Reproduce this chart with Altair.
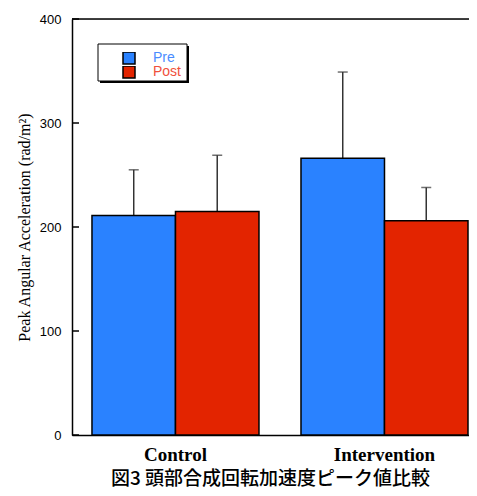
import altair as alt
import pandas as pd

groups = ["Control", "Control", "Intervention", "Intervention"]
phases = ["Pre", "Post", "Pre", "Post"]
means = [211, 215, 266, 206]
errs = [44, 54, 83, 32]
y_ticks = [0, 100, 200, 300, 400]
phase_order = ["Pre", "Post"]
group_order = ["Control", "Intervention"]
bar_colors = ["#2A82FF", "#E32400"]
label_colors = ["#4A8CFF", "#F0503C"]

df = pd.DataFrame({"group": groups, "phase": phases, "mean": means, "err": errs})
df["upper"] = df["mean"] + df["err"]
ticks_df = pd.DataFrame({"v": y_ticks})
one = pd.DataFrame({"a": [0]})

W, H = 397, 416

xscale = alt.Scale(paddingInner=0.201, paddingOuter=0.0502, align=0.952)
x_enc = alt.X("group:N", scale=xscale, sort=group_order,
              axis=alt.Axis(title=None, labelAngle=0, labelAlign="center", labelBaseline="top",
                            ticks=False, tickSize=0,
                            labelFont="Liberation Serif", labelFontWeight="bold",
                            labelFontSize=19, labelPadding=10, labelColor="black",
                            domainColor="black", domainWidth=1.5))
xoff = alt.XOffset("phase:N", sort=phase_order, scale=alt.Scale(paddingInner=0, paddingOuter=0))
yscale = alt.Scale(domain=[0, 400], nice=False)

bars = alt.Chart(df).mark_bar(stroke="black", strokeWidth=1.5, opacity=1).encode(
    x=x_enc,
    xOffset=xoff,
    y=alt.Y("mean:Q", scale=yscale,
            axis=alt.Axis(values=y_ticks, ticks=False, tickSize=0, grid=False,
                          title="Peak Angular Acceleration (rad/m²)",
                          titleFont="Liberation Serif", titleFontSize=16,
                          titleFontWeight="normal", titleColor="black",
                          titleX=-40, titleY=208, titleAngle=270, titleBaseline="bottom",
                          titleAlign="center",
                          labelFont="Liberation Sans", labelFontSize=13, labelColor="black",
                          labelPadding=11, domainColor="black", domainWidth=1.5)),
    color=alt.Color("phase:N", sort=phase_order,
                    scale=alt.Scale(domain=phase_order, range=bar_colors),
                    legend=alt.Legend(title=None, orient="none", legendX=50, legendY=33,
                                      padding=0, symbolType="square", symbolSize=144,
                                      symbolStrokeColor="black", symbolStrokeWidth=1.5,
                                      symbolOpacity=1, rowPadding=0, clipHeight=12,
                                      labelFont="Liberation Sans", labelFontSize=14,
                                      labelOffset=17,
                                      labelColor=alt.ExprRef(
                                          f"datum.value == 'Pre' ? '{label_colors[0]}' : '{label_colors[1]}'"))),
)

err_rules = alt.Chart(df).mark_rule(color="#333333", strokeWidth=1.5).encode(
    x=alt.X("group:N", scale=xscale, sort=group_order),
    xOffset=xoff,
    y=alt.Y("mean:Q", scale=yscale),
    y2="upper:Q",
)
err_caps = alt.Chart(df).mark_tick(color="#333333", thickness=1.5, size=10, orient="horizontal").encode(
    x=alt.X("group:N", scale=xscale, sort=group_order),
    xOffset=xoff,
    y=alt.Y("upper:Q", scale=yscale),
)

inner_ticks = alt.Chart(ticks_df).mark_rule(color="black", strokeWidth=1.5).encode(
    x=alt.value(0), x2=alt.value(7),
    y=alt.Y("v:Q", scale=yscale),
)

top_line = alt.Chart(one).mark_rule(color="black", strokeWidth=1.5).encode(
    x=alt.value(0), x2=alt.value(W), y=alt.value(0)
)

shadow = alt.Chart(one).mark_rect(color="black").encode(
    x=alt.value(28), x2=alt.value(117), y=alt.value(27), y2=alt.value(64)
)
box = alt.Chart(one).mark_rect(fill="white", stroke="black", strokeWidth=1).encode(
    x=alt.value(26), x2=alt.value(115), y=alt.value(25), y2=alt.value(62)
)

chart = alt.layer(err_rules, err_caps, bars, inner_ticks, top_line, shadow, box).properties(
    width=W, height=H,
    padding={"left": 64, "top": 11, "right": 0, "bottom": 53},
    autosize=alt.AutoSizeParams(type="none"),
    title=alt.TitleParams(text="図3 頭部合成回転加速度ピーク値比較", orient="bottom",
                          font="Noto Sans CJK JP", fontSize=19, fontWeight=500,
                          anchor="middle", offset=6, color="black"),
).configure_view(stroke=None).configure(background="white")

chart.save("out.html", embed_options={"renderer": "svg", "actions": False})
